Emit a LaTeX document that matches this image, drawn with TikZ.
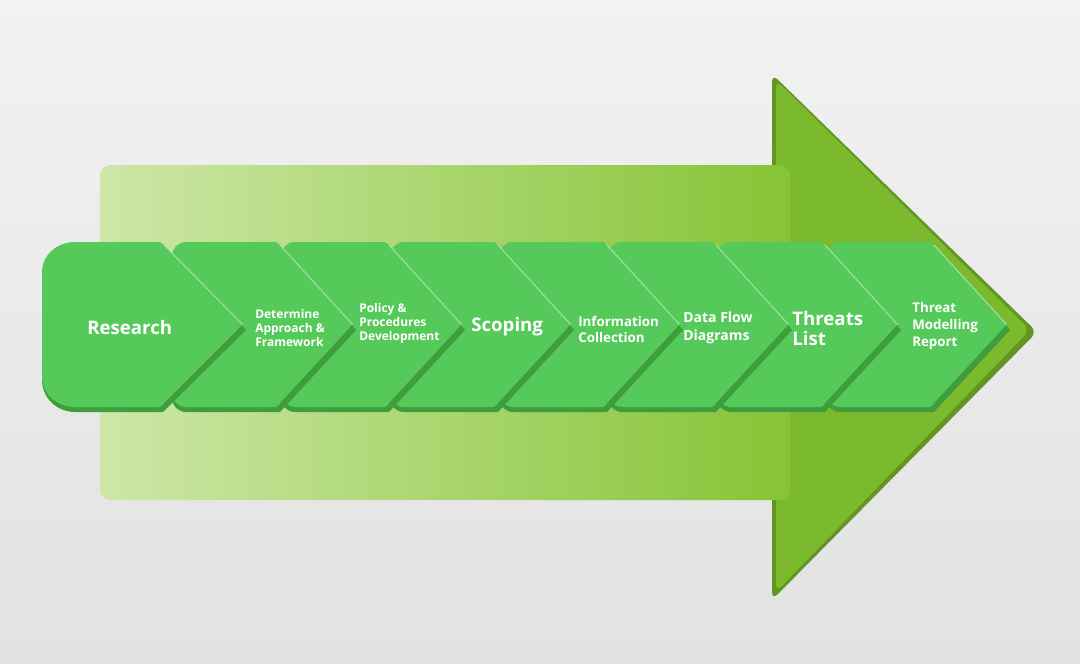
\documentclass[tikz,border=0pt]{standalone}
\usepackage{fontspec}
\setmainfont{Open Sans}
\definecolor{bgA}{HTML}{F2F2F2}
\definecolor{bgB}{HTML}{E2E2E2}
\definecolor{chev}{HTML}{55C95A}
\definecolor{chevd}{HTML}{3E9E3E}
\definecolor{bodyL}{HTML}{CDE7A8}
\definecolor{bodyR}{HTML}{86C435}
\definecolor{headc}{HTML}{7BBA2C}
\begin{document}
\begin{tikzpicture}[x=0.75pt,y=-0.75pt,
  lab/.style={text=white,font=\bfseries\fontsize{9}{10.5}\selectfont,align=left,inner sep=0pt},
  big/.style={text=white,font=\bfseries\fontsize{14}{15}\selectfont,align=left,inner sep=0pt},
  hl/.style={draw=chev!55!white,line width=0.8pt},
  dk/.style={draw=chevd,line width=0.8pt}]
\useasboundingbox (0,0) rectangle (1080,663);
\shade[top color=bgA,bottom color=bgB] (0,0) rectangle (1080,663);
% big arrow
\fill[headc!80!black,rounded corners=6pt] (772,500) -- (772,600) -- (1037,332) -- (772,74) -- (772,165) -- cycle;
\fill[headc,rounded corners=6pt] (776,500) -- (776,592) -- (1030,330) -- (776,80) -- (776,165) -- cycle;
\shade[left color=bodyL,right color=bodyR,rounded corners=8pt] (100,165) rectangle (790,500);
% chevrons, drawn right to left
\foreach \k in {7,...,1}{
  \pgfmathsetmacro{\xo}{172+109*(\k-1)}
  \pgfmathsetmacro{\xs}{\xo+108}
  \pgfmathsetmacro{\xp}{\xs+73}
  \fill[chevd] (\xo,260) to[out=90,in=180] (\xo+14,246) -- (\xs,246) -- (\xp+3,330) -- (\xs,412) -- (\xo+14,412) to[out=180,in=-90] (\xo,398) -- cycle;
  \fill[chev] (\xo,256) to[out=90,in=180] (\xo+14,242) -- (\xs-4,242) -- (\xs,245) -- (\xp,325) -- (\xs,404) -- (\xs-4,407) -- (\xo+14,407) to[out=180,in=-90] (\xo,393) -- cycle;
  \draw[hl] (\xs,245) -- (\xp,325);
  \draw[dk] (\xp,325) -- (\xs,404);
}
% shadows of each point onto the next chevron
\foreach \k in {1,...,7}{
  \pgfmathsetmacro{\xs}{172+109*(\k-1)-1}
  \pgfmathsetmacro{\xp}{\xs+80}
}
\fill[chevd] (42,275) to[out=90,in=180] (75,246) -- (163,246) -- (246,330) -- (163,412) -- (75,412) to[out=180,in=-90] (42,380) -- cycle;
\fill[chev] (42,272) to[out=90,in=180] (75,242) -- (160,242) -- (164,245) -- (243,325) -- (164,404) -- (160,407) -- (75,407) to[out=180,in=-90] (42,377) -- cycle;
\draw[hl] (164,245) -- (243,325);
\draw[dk] (243,325) -- (164,404);
\node[big,anchor=west] (n1) at (87,327) {Research};
\node[lab,anchor=west] (n2) at (255,328) {Determine\\Approach \&\\Framework};
\node[lab,anchor=west] (n3) at (359,323) {Policy \&\\Procedures\\Development};
\node[big,anchor=west] (n4) at (471,327) {Scoping};
\node[lab,anchor=west,font=\bfseries\fontsize{10}{12}\selectfont] (n5) at (578,329) {Information\\Collection};
\node[lab,anchor=west,font=\bfseries\fontsize{10.5}{13}\selectfont] (n6) at (683,328) {Data Flow\\Diagrams};
\node[big,anchor=west] (n7) at (792,328) {Threats\\List};
\node[lab,anchor=west,font=\bfseries\fontsize{10}{12.5}\selectfont] (n8) at (912,326) {Threat\\Modelling\\Report};
\end{tikzpicture}
\end{document}
